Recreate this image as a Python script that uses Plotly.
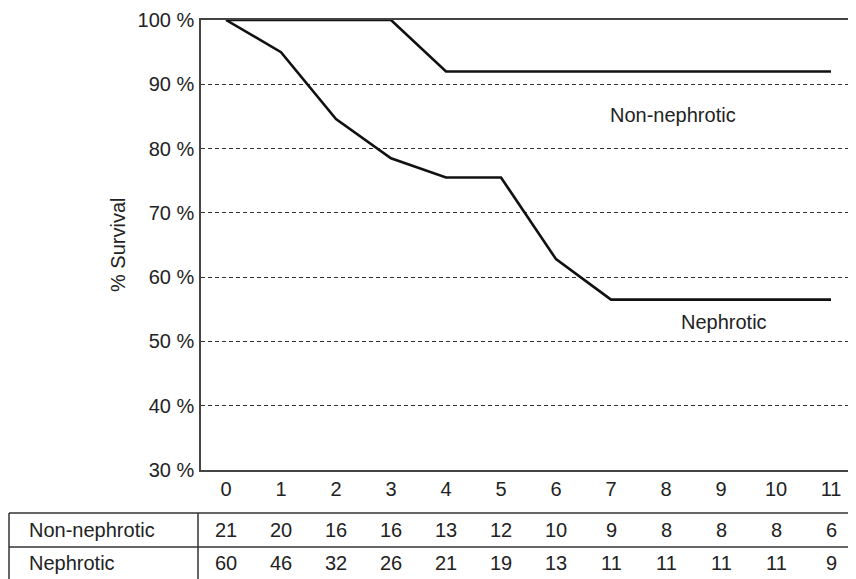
import plotly.graph_objects as go

# ---- data ----
years = list(range(12))
non_neph_t = [0, 3, 4, 11]
non_neph_s = [100, 100, 92, 92]
neph_t = [0, 1, 2, 3, 4, 5, 6, 7, 11]
neph_s = [100, 95, 84.6, 78.5, 75.5, 75.5, 62.8, 56.5, 56.5]
at_risk_non_neph = [21, 20, 16, 16, 13, 12, 10, 9, 8, 8, 8, 6]
at_risk_neph = [60, 46, 32, 26, 21, 19, 13, 11, 11, 11, 11, 9]
y_ticks = [30, 40, 50, 60, 70, 80, 90, 100]
y_tick_labels = [f"{v} %" for v in y_ticks]

W, H = 856, 579
BODY = 8  # default page body margin
L, R, T, B = 201, 854, 20, 470  # plot area in window pixels
FONT = "Liberation Sans, Arial, Helvetica, sans-serif"
TXT = "#222222"
FS = 20

def px(x):
    return (x - L) / (R - L)

def py(y):
    return (B - y) / (B - T)

fig = go.Figure()
fig.add_trace(go.Scatter(x=non_neph_t, y=non_neph_s, mode="lines",
                         line=dict(color="#111111", width=2.6), hoverinfo="skip"))
fig.add_trace(go.Scatter(x=neph_t, y=neph_s, mode="lines",
                         line=dict(color="#111111", width=2.6), hoverinfo="skip"))

annotations = [
    dict(x=8.13, y=85.2, xref="x", yref="y", text="Non-nephrotic", showarrow=False,
         font=dict(size=FS, color=TXT, family=FONT)),
    dict(x=9.05, y=53.0, xref="x", yref="y", text="Nephrotic", showarrow=False,
         font=dict(size=FS, color=TXT, family=FONT)),
    dict(x=px(118), y=0.5, xref="paper", yref="paper", text="% Survival", textangle=-90,
         showarrow=False, xanchor="center", yanchor="middle",
         font=dict(size=FS, color=TXT, family=FONT)),
]

# at-risk table
row_y = [530, 563]
labels = ["Non-nephrotic", "Nephrotic"]
rows = [at_risk_non_neph, at_risk_neph]
for lab, vals, ry in zip(labels, rows, row_y):
    annotations.append(dict(x=px(27), y=py(ry), xref="paper", yref="paper", text=lab,
                            xanchor="left", yanchor="middle", showarrow=False,
                            font=dict(size=FS, color=TXT, family=FONT)))
    for t, v in zip(years, vals):
        annotations.append(dict(x=t, y=py(ry), xref="x", yref="paper", text=str(v),
                                xanchor="center", yanchor="middle", showarrow=False,
                                font=dict(size=FS, color=TXT, family=FONT)))

line_col = "#333333"
shapes = [
    dict(type="line", xref="paper", yref="paper", x0=px(9), x1=px(853), y0=py(513), y1=py(513),
         line=dict(color=line_col, width=1.5)),
    dict(type="line", xref="paper", yref="paper", x0=px(9), x1=px(853), y0=py(547), y1=py(547),
         line=dict(color=line_col, width=1.5)),
    dict(type="line", xref="paper", yref="paper", x0=px(9), x1=px(9), y0=py(513), y1=py(580),
         line=dict(color=line_col, width=1.5)),
    dict(type="line", xref="paper", yref="paper", x0=px(198), x1=px(198), y0=py(513), y1=py(580),
         line=dict(color=line_col, width=1.5)),
    dict(type="line", xref="paper", yref="paper", x0=px(853), x1=px(853), y0=py(513), y1=py(580),
         line=dict(color=line_col, width=1.5)),
]

x0_px = 226
scale = 55.0
fig.update_layout(
    width=W - BODY, height=H - BODY,
    margin=dict(l=L - BODY, r=W - R, t=T - BODY, b=H - B, autoexpand=False),
    paper_bgcolor="white", plot_bgcolor="white",
    showlegend=False,
    font=dict(family=FONT, size=FS, color=TXT),
    annotations=annotations,
    shapes=shapes,
    xaxis=dict(range=[(L - x0_px) / scale, (R - x0_px) / scale],
               tickvals=years, ticktext=[str(t) for t in years],
               showgrid=False, zeroline=False, ticks="", automargin=False,
               showline=True, linecolor="#444444", linewidth=1.5, mirror=True,
               ticklabelstandoff=0, tickfont=dict(size=FS, color=TXT, family=FONT)),
    yaxis=dict(range=[30, 100], tickvals=y_ticks, ticktext=y_tick_labels,
               showgrid=True, gridcolor="#333333", gridwidth=1, griddash="4px,3px",
               zeroline=False, ticks="", automargin=False,
               showline=True, linecolor="#444444", linewidth=1.5, mirror=True,
               ticklabelstandoff=1, tickfont=dict(size=FS, color=TXT, family=FONT)),
)

fig.write_html("out.html")
